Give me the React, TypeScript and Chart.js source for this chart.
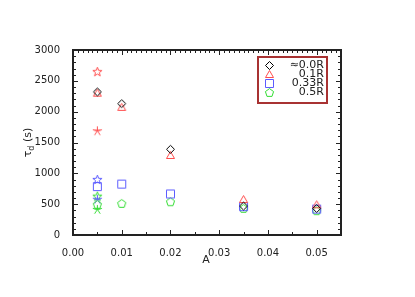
import React, { useEffect, useRef } from 'react';
import { Chart, registerables } from 'chart.js';

Chart.register(...registerables);

// ---- data ----
const aValues = [0.005, 0.01, 0.02, 0.035, 0.05];
const tau00 = [2320, 2130, 1390, 470, 430];
const tau01 = [2300, 2070, 1290, 575, 490];
const tau033 = [785, 825, 665, 460, 420];
const tau05 = [497, 512, 540, 432, 395];

const starA = [0.005];
const redStar = [2650];
const redAsterisk = [1690];
const blueStar = [900];
const blueAsterisk = [580];
const greenStar = [630];
const greenAsterisk = [415];

const xTickValues = [0, 0.01, 0.02, 0.03, 0.04, 0.05];
const yTickValues = [0, 500, 1000, 1500, 2000, 2500, 3000];
const legendLabels = ['≈0.0R', '0.1R', '0.33R', '0.5R'];

// ---- styles ----
const BLACK = '#000000';
const RED = '#ff4d4d';
const BLUE = '#5c5cff';
const GREEN = '#33dd33';
const AXIS = '#222222';
const FONT = '"DejaVu Sans", sans-serif';

function makeMarker(shape: string, color: string): HTMLCanvasElement {
  const s = 11;
  const c = document.createElement('canvas');
  c.width = s;
  c.height = s;
  const ctx = c.getContext('2d')!;
  const m = s / 2;
  ctx.strokeStyle = color;
  ctx.lineWidth = 1;
  ctx.beginPath();
  if (shape === 'diamond') {
    const r = 4;
    ctx.moveTo(m, m - r);
    ctx.lineTo(m + r, m);
    ctx.lineTo(m, m + r);
    ctx.lineTo(m - r, m);
    ctx.closePath();
  } else if (shape === 'triangle') {
    ctx.moveTo(m, m - 4);
    ctx.lineTo(m + 4, m + 3);
    ctx.lineTo(m - 4, m + 3);
    ctx.closePath();
  } else if (shape === 'square') {
    ctx.rect(m - 4, m - 4, 8, 8);
  } else if (shape === 'pentagon') {
    const r = 4.3;
    for (let k = 0; k < 5; k++) {
      const ang = -Math.PI / 2 + (k * 2 * Math.PI) / 5;
      const px = m + r * Math.cos(ang);
      const py = m + 0.4 + r * Math.sin(ang);
      if (k === 0) ctx.moveTo(px, py);
      else ctx.lineTo(px, py);
    }
    ctx.closePath();
  } else if (shape === 'star') {
    const ro = 4.8;
    const ri = 2;
    for (let k = 0; k < 10; k++) {
      const ang = -Math.PI / 2 + (k * Math.PI) / 5;
      const r = k % 2 === 0 ? ro : ri;
      const px = m + r * Math.cos(ang);
      const py = m + 0.4 + r * Math.sin(ang);
      if (k === 0) ctx.moveTo(px, py);
      else ctx.lineTo(px, py);
    }
    ctx.closePath();
  } else if (shape === 'asterisk') {
    const r = 4.8;
    for (let k = 0; k < 5; k++) {
      const ang = -Math.PI / 2 + (k * 2 * Math.PI) / 5;
      ctx.moveTo(m, m);
      ctx.lineTo(m + r * Math.cos(ang), m + 0.4 + r * Math.sin(ang));
    }
    ctx.moveTo(m - 3, m - 0.5);
    ctx.lineTo(m + 3, m - 0.5);
  }
  ctx.stroke();
  return c;
}

function pts(xs: number[], ys: number[]) {
  return xs.map((x, i) => ({ x, y: ys[i] }));
}

const framePlugin = {
  id: 'frameTicks',
  afterDraw(chart: any) {
    const ctx = chart.ctx;
    const { left, right, top, bottom } = chart.chartArea;
    const xs = chart.scales.x;
    const ys = chart.scales.y;
    ctx.save();
    ctx.fillStyle = AXIS;
    const L = Math.round(left);
    const R = Math.round(right);
    const T = Math.round(top);
    const B = Math.round(bottom);
    // frame
    ctx.fillRect(L - 1, T - 1, R - L + 2, 2);
    ctx.fillRect(L - 1, B - 1, R - L + 2, 2);
    ctx.fillRect(L - 1, T - 1, 2, B - T + 2);
    ctx.fillRect(R - 1, T - 1, 2, B - T + 2);
    const MAJ = 5;
    const MIN = 3;
    // bottom ticks
    for (let i = 0; i <= 11; i++) {
      const px = Math.round(xs.getPixelForValue(i * 0.005));
      const len = i % 2 === 0 ? MAJ : MIN;
      ctx.fillRect(px, B - len, 1, len);
    }
    // top ticks
    for (let i = 0; i <= 55; i++) {
      const px = Math.round(xs.getPixelForValue(i * 0.001));
      const len = i % 10 === 0 ? MAJ : MIN;
      ctx.fillRect(px, T, 1, len);
    }
    // left & right ticks
    for (let i = 0; i <= 30; i++) {
      const py = Math.round(ys.getPixelForValue(i * 100));
      const len = i % 5 === 0 ? MAJ : MIN;
      ctx.fillRect(L, py, len, 1);
      ctx.fillRect(R - len, py, len, 1);
    }

    // axis titles
    ctx.fillStyle = AXIS;
    ctx.font = `11px ${FONT}`;
    ctx.textAlign = 'center';
    ctx.textBaseline = 'middle';
    ctx.fillText('A', (left + right) / 2 - 1, 260);

    ctx.save();
    ctx.translate(27, (top + bottom) / 2);
    ctx.rotate(-Math.PI / 2);
    ctx.textAlign = 'left';
    ctx.textBaseline = 'alphabetic';
    const tauW = ctx.measureText('τ').width;
    ctx.font = `8px ${FONT}`;
    const dW = ctx.measureText('d').width;
    ctx.font = `11px ${FONT}`;
    const sW = ctx.measureText(' (s)').width;
    const total = tauW + dW + sW;
    let x0 = -total / 2;
    ctx.fillText('τ', x0, 4);
    x0 += tauW;
    ctx.font = `8px ${FONT}`;
    ctx.fillText('d', x0, 7);
    x0 += dW;
    ctx.font = `11px ${FONT}`;
    ctx.fillText(' (s)', x0, 4);
    ctx.restore();

    // legend
    ctx.strokeStyle = '#a83232';
    ctx.lineWidth = 2;
    ctx.strokeRect(258, 57, 69, 46);
    const rows = [65, 74, 83, 92];
    ctx.font = `11px ${FONT}`;
    ctx.textAlign = 'right';
    ctx.textBaseline = 'middle';
    for (let i = 0; i < legendLabels.length; i++) {
      const ds = chart.data.datasets[i];
      const img = ds.pointStyle as HTMLCanvasElement;
      ctx.drawImage(img, Math.round(269 - img.width / 2), Math.round(rows[i] - img.height / 2));
      ctx.fillStyle = AXIS;
      ctx.fillText(legendLabels[i], 324, rows[i]);
    }
    ctx.restore();
  },
};

export default function App() {
  const ref = useRef<HTMLCanvasElement>(null);
  useEffect(() => {
    document.body.style.margin = '0';
    const canvas = ref.current!;
    const mk = (label: string, xs: number[], ys: number[], shape: string, color: string) => ({
      label,
      data: pts(xs, ys),
      pointStyle: makeMarker(shape, color),
      pointRadius: 5,
      borderColor: color,
      backgroundColor: color,
      showLine: false,
    });
    const chart = new Chart(canvas, {
      type: 'scatter',
      data: {
        datasets: [
          mk(legendLabels[0], aValues, tau00, 'diamond', BLACK),
          mk(legendLabels[1], aValues, tau01, 'triangle', RED),
          mk(legendLabels[2], aValues, tau033, 'square', BLUE),
          mk(legendLabels[3], aValues, tau05, 'pentagon', GREEN),
          mk('red star', starA, redStar, 'star', RED),
          mk('red asterisk', starA, redAsterisk, 'asterisk', RED),
          mk('blue star', starA, blueStar, 'star', BLUE),
          mk('blue asterisk', starA, blueAsterisk, 'asterisk', BLUE),
          mk('green star', starA, greenStar, 'star', GREEN),
          mk('green asterisk', starA, greenAsterisk, 'asterisk', GREEN),
        ] as any,
      },
      options: {
        animation: false,
        responsive: false,
        maintainAspectRatio: false,
        layout: { padding: { top: 50, right: 74, left: 0, bottom: 0 } },
        plugins: { legend: { display: false }, tooltip: { enabled: false } },
        scales: {
          x: {
            type: 'linear',
            min: 0,
            max: 0.055,
            afterBuildTicks: (s: any) => {
              s.ticks = xTickValues.map((v) => ({ value: v }));
            },
            afterFit: (s: any) => {
              s.height = 62;
            },
            grid: { display: false },
            border: { display: false },
            ticks: {
              padding: 4,
              maxRotation: 0,
              autoSkip: false,
              color: AXIS,
              font: { family: FONT, size: 10 },
              callback: (v: any) => Number(v).toFixed(2),
            },
          },
          y: {
            type: 'linear',
            min: 0,
            max: 3000,
            afterBuildTicks: (s: any) => {
              s.ticks = yTickValues.map((v) => ({ value: v }));
            },
            afterFit: (s: any) => {
              s.width = 73;
            },
            grid: { display: false },
            border: { display: false },
            ticks: {
              padding: 5,
              autoSkip: false,
              color: AXIS,
              font: { family: FONT, size: 10 },
              callback: (v: any) => String(v),
            },
          },
        },
      } as any,
      plugins: [framePlugin],
    });
    return () => chart.destroy();
  }, []);
  return (
    <div style={{ position: 'fixed', left: 0, top: 0, width: 415, height: 297, background: '#fff' }}>
      <canvas ref={ref} width={415} height={297} style={{ display: 'block' }} />
    </div>
  );
}
